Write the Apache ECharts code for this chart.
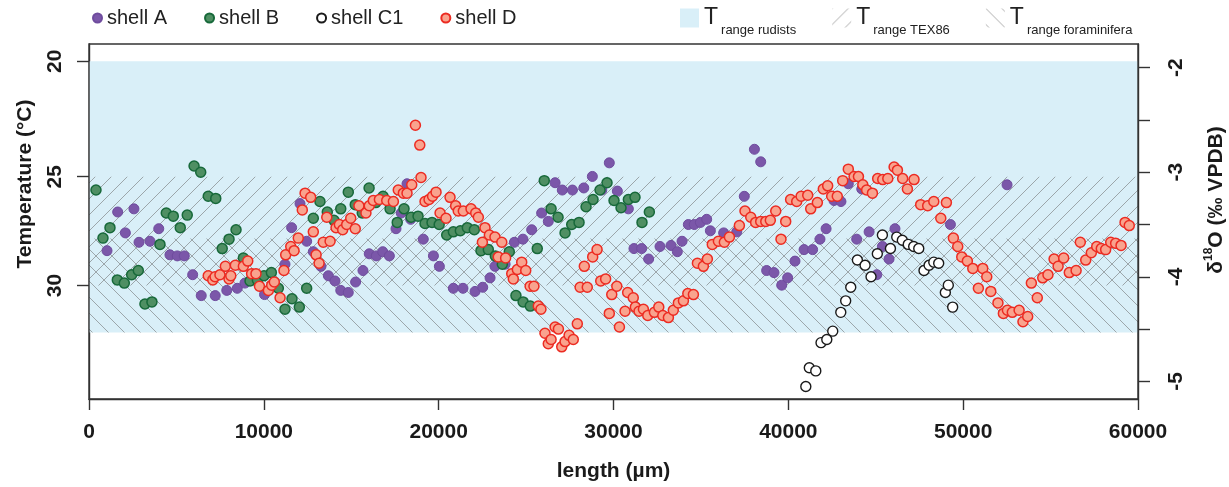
<!DOCTYPE html>
<html lang="en">
<head>
<meta charset="UTF-8">
<title>Shell temperatures</title>
<style>
  html, body { margin: 0; padding: 0; background: #fff; }
  #chart { width: 1229px; height: 487px; }
</style>
</head>
<body>
<div id="chart"></div>
<script src="https://cdn.jsdelivr.net/npm/echarts@6/dist/echarts.min.js"></script>
<script>
// length (µm) and d18O (permil VPDB)
const shellAx = [1030,1640,2080,2570,2860,3490,3990,4630,5050,5450,5930,6420,7220,7880,8480,8920,10040,11210,11590,12070,12450,12830,13270,13690,14070,14400,14830,15250,15670,16030,16430,16800,17180,17560,17860,18190,18400,19120,19700,20040,20840,21390,22080,22520,22940,23220,23800,24330,24820,25320,25890,26270,26660,27070,27650,28300,28790,29330,29760,30220,30850,31170,31610,32010,32660,33290,33650,33920,34280,34620,34970,35330,35540,36300,37050,37480,38060,38420,38760,39180,39620,39960,40380,40900,41390,41810,42160,42610,43010,43430,43910,44200,44620,45060,45380,45760,46100,49270,52510];
const shellAd = [-3.75,-3.38,-3.58,-3.35,-3.67,-3.66,-3.54,-3.79,-3.80,-3.80,-3.98,-4.18,-4.18,-4.13,-4.11,-4.06,-4.17,-3.88,-3.53,-3.30,-3.66,-3.76,-3.90,-3.99,-4.04,-4.13,-4.15,-4.05,-3.94,-3.78,-3.80,-3.76,-3.80,-3.54,-3.39,-3.11,-3.45,-3.64,-3.80,-3.90,-4.11,-4.11,-4.14,-4.10,-4.01,-3.90,-3.88,-3.67,-3.64,-3.55,-3.39,-3.47,-3.10,-3.17,-3.17,-3.15,-3.04,-3.17,-2.91,-3.18,-3.35,-3.73,-3.73,-3.83,-3.71,-3.70,-3.76,-3.66,-3.50,-3.50,-3.48,-3.45,-3.56,-3.58,-3.57,-3.23,-2.78,-2.90,-3.94,-3.96,-4.08,-4.01,-3.85,-3.74,-3.74,-3.64,-3.54,-3.27,-3.28,-3.11,-3.64,-3.16,-3.57,-3.98,-3.71,-3.83,-3.54,-3.50,-3.12];

const shellBx = [400,800,1200,1620,2020,2440,2820,3200,3600,4060,4420,4820,5220,5620,6010,6390,6820,7250,7620,8010,8410,8830,9210,9630,10010,10430,10830,11210,11610,12030,12450,12830,13210,13630,14010,14400,14830,15230,15630,16020,16400,16820,17220,17630,18020,18420,18820,19220,19620,20030,20460,20840,21240,21640,22040,22420,22840,23240,23640,24040,24420,24830,25240,25640,26040,26430,26830,27230,27610,28030,28430,28830,29230,29630,30030,30430,30850,31230,31630,32050];
const shellBd = [-3.17,-3.63,-3.53,-4.03,-4.06,-3.98,-3.94,-4.26,-4.24,-3.69,-3.39,-3.42,-3.53,-3.41,-2.94,-3.00,-3.23,-3.25,-3.73,-3.64,-3.55,-3.82,-4.04,-4.03,-3.99,-3.96,-4.11,-4.31,-4.21,-4.29,-4.11,-3.44,-3.28,-3.38,-3.46,-3.35,-3.19,-3.31,-3.39,-3.15,-3.29,-3.23,-3.35,-3.48,-3.35,-3.43,-3.42,-3.49,-3.48,-3.50,-3.60,-3.57,-3.56,-3.53,-3.55,-3.75,-3.74,-3.80,-3.88,-3.76,-4.18,-4.24,-4.28,-3.73,-3.08,-3.35,-3.43,-3.58,-3.50,-3.48,-3.33,-3.26,-3.17,-3.10,-3.27,-3.34,-3.26,-3.24,-3.48,-3.38];

const shellC1x = [41000,41200,41570,41870,42200,42540,43000,43280,43570,43950,44390,44730,45090,45380,45840,46200,46520,46860,47170,47460,47760,48050,48320,48600,48980,49150,49400];
const shellC1d = [-5.05,-4.87,-4.90,-4.63,-4.60,-4.52,-4.34,-4.23,-4.10,-3.84,-3.89,-4.00,-3.78,-3.60,-3.73,-3.62,-3.65,-3.69,-3.71,-3.73,-3.94,-3.89,-3.86,-3.87,-4.15,-4.08,-4.29];

const shellDx = [6820,7080,7210,7490,7800,8010,8110,8370,8830,9080,
  9300,9550,9750,10260,10450,10600,10930,11150,11250,11540,
  11730,11970,12200,12360,12680,12830,12990,13160,13400,13600,
  13790,14130,14320,14510,14740,14970,15230,15440,15840,16030,
  16260,16610,17030,17410,17690,17980,18190,18460,18670,18920,
  18990,19220,19450,19650,19850,20080,20420,20650,20970,21120,
  21410,21850,22120,22270,22500,22650,22900,23220,23410,23610,
  23830,24180,24270,24500,24750,24980,25230,25450,25700,25850,
  26080,26270,26430,26660,26850,27040,27230,27460,27700,27930,
  28090,28330,28500,28810,29060,29270,29550,29760,29900,30190,
  30340,30660,30810,31130,31250,31460,31710,31960,32340,32590,
  32820,33140,33420,33710,34000,34250,34570,34800,35140,35370,
  35650,36000,36340,36630,37200,37520,37850,38130,38420,38710,
  38970,39280,39580,39850,40130,40480,40730,41110,41280,41660,
  42000,42250,42480,42800,43110,43430,43760,44010,44260,44480,
  44810,45110,45400,45690,46050,46240,46540,46810,47190,47570,
  47970,48320,48720,49040,49440,49690,49920,50240,50550,50870,
  51120,51350,51580,51990,52300,52530,52810,53200,53420,53690,
  53900,54240,54550,54850,55200,55430,55750,56070,56460,56700,
  57010,57330,57640,57900,58150,58440,58720,59030,59260,59500];
const shellDd = [-3.99,-4.03,-4.00,-3.98,-3.90,-4.02,-3.99,-3.89,-3.90,-3.85,
  -3.97,-3.97,-4.09,-4.13,-4.08,-4.05,-4.20,-3.94,-3.79,-3.71,
  -3.75,-3.63,-3.36,-3.20,-3.24,-3.57,-3.79,-3.87,-3.67,-3.43,
  -3.66,-3.53,-3.50,-3.55,-3.50,-3.44,-3.54,-3.32,-3.39,-3.32,
  -3.27,-3.26,-3.27,-3.28,-3.17,-3.20,-3.20,-3.12,-2.55,-2.74,
  -3.05,-3.28,-3.26,-3.23,-3.19,-3.39,-3.44,-3.24,-3.32,-3.37,
  -3.37,-3.35,-3.39,-3.43,-3.67,-3.53,-3.60,-3.62,-3.81,-3.67,
  -3.82,-3.97,-4.02,-3.93,-3.86,-3.94,-4.09,-4.09,-4.28,-4.31,
  -4.54,-4.64,-4.60,-4.48,-4.50,-4.67,-4.62,-4.56,-4.60,-4.45,
  -4.10,-3.90,-4.10,-3.81,-3.74,-4.04,-4.02,-4.35,-4.17,-4.09,
  -4.48,-4.33,-4.15,-4.20,-4.29,-4.33,-4.31,-4.37,-4.34,-4.29,
  -4.37,-4.39,-4.32,-4.25,-4.23,-4.16,-4.17,-3.87,-3.90,-3.83,
  -3.69,-3.66,-3.67,-3.62,-3.51,-3.37,-3.43,-3.48,-3.47,-3.47,
  -3.46,-3.37,-3.64,-3.47,-3.26,-3.28,-3.23,-3.22,-3.35,-3.29,
  -3.16,-3.13,-3.23,-3.23,-3.08,-2.97,-3.04,-3.04,-3.12,-3.17,
  -3.20,-3.06,-3.07,-3.06,-2.95,-2.98,-3.06,-3.16,-3.07,-3.31,
  -3.32,-3.28,-3.44,-3.29,-3.63,-3.71,-3.81,-3.85,-3.92,-4.11,
  -3.92,-4.00,-4.14,-4.25,-4.35,-4.32,-4.34,-4.32,-4.43,-4.38,
  -4.06,-4.20,-4.01,-3.98,-3.83,-3.90,-3.82,-3.96,-3.94,-3.67,
  -3.84,-3.77,-3.71,-3.73,-3.74,-3.67,-3.68,-3.70,-3.48,-3.51];

// temperature ranges (°C)
const rangeRudists = [20, 32.25];
const rangeTEX86 = [25, 30];
const rangeForam = [27.8, 32.25];

const tempTicks = [20, 25, 30];
const d18OTicks = [-2, -2.5, -3, -3.5, -4, -4.5, -5];
const d18OLabels = [-2, -3, -4, -5];
const lengthMax = 60000;

// T = 16 - 4.14 (dc - dw) + 0.13 (dc - dw)^2 , dw = -1
function tempToD18O(t) {
  const disc = 4.14 * 4.14 - 4 * 0.13 * (16 - t);
  return (4.14 - Math.sqrt(disc)) / 0.26 - 1;
}
function d18OToTemp(d) {
  const x = d + 1;
  return 16 - 4.14 * x + 0.13 * x * x;
}

function hatch(dir) {
  const s = 16;
  const c = document.createElement('canvas');
  c.width = s; c.height = s;
  const g = c.getContext('2d');
  g.strokeStyle = 'rgba(105,105,105,0.55)';
  g.lineWidth = 1;
  g.beginPath();
  if (dir > 0) {
    g.moveTo(-s, s); g.lineTo(s, -s);
    g.moveTo(0, 2 * s); g.lineTo(2 * s, 0);
    g.moveTo(0, s); g.lineTo(s, 0);
  } else {
    g.moveTo(0, 0); g.lineTo(s, s);
    g.moveTo(-s, 0); g.lineTo(s, 2 * s);
    g.moveTo(0, -s); g.lineTo(2 * s, s);
  }
  g.stroke();
  return { image: c, repeat: 'repeat' };
}

const FONT = 'Liberation Sans, Arial, Helvetica, sans-serif';
const yMin = -5.169, yMax = -1.773;

function zip(xs, ys) { return xs.map((x, i) => [x, ys[i]]); }

function band(name, range, fill) {
  return {
    name: name,
    type: 'custom',
    silent: true,
    z: 1,
    itemStyle: { color: fill },
    encode: { x: [0, 1], y: [2, 3] },
    data: [[0, lengthMax, tempToD18O(range[0]), tempToD18O(range[1])]],
    renderItem: function (params, api) {
      const p1 = api.coord([api.value(0), api.value(2)]);
      const p2 = api.coord([api.value(1), api.value(3)]);
      return {
        type: 'rect',
        shape: { x: p1[0], y: Math.min(p1[1], p2[1]), width: p2[0] - p1[0], height: Math.abs(p2[1] - p1[1]) },
        style: { fill: fill }
      };
    }
  };
}

const axisLine = { show: true, onZero: false, lineStyle: { color: '#333', width: 1.4 } };
const tickLabel = { fontFamily: FONT, fontSize: 21, fontWeight: 'bold', color: '#1a1a1a' };

const chart = echarts.init(document.getElementById('chart'));

const option = {
  animation: false,
  grid: { left: 89, right: 91, top: 44, bottom: 88, show: true, borderColor: '#333', borderWidth: 1.4, z: 10 },
  legend: [
    {
      data: ['shell A', 'shell B', 'shell C1', 'shell D'],
      left: 87, top: 3, itemWidth: 9, itemHeight: 9, itemGap: 37,
      selectedMode: false,
      textStyle: { fontFamily: FONT, fontSize: 20, color: '#222' }
    },
    {
      data: ['rudists', 'TEX86', 'foraminifera'],
      left: 675, top: 1.5, icon: 'rect', itemWidth: 19, itemHeight: 19, itemGap: 36,
      selectedMode: false,
      formatter: name => '{t|T}{s|range ' + name + '}',
      textStyle: {
        fontFamily: FONT, color: '#222',
        rich: {
          t: { fontFamily: FONT, fontSize: 23, color: '#222', verticalAlign: 'middle', lineHeight: 37 },
          s: { fontFamily: FONT, fontSize: 13, color: '#222', verticalAlign: 'bottom', lineHeight: 37, padding: [0, 0, 0, 3] }
        }
      }
    }
  ],
  xAxis: {
    type: 'value', min: 0, max: lengthMax, interval: 10000,
    axisLine: axisLine,
    axisTick: { show: true, length: 11, lineStyle: { color: '#333', width: 1.4 } },
    axisLabel: Object.assign({ margin: 23, formatter: v => String(v) }, tickLabel),
    splitLine: { show: false },
    name: 'length (µm)', nameLocation: 'middle', nameGap: 62,
    nameTextStyle: { fontFamily: FONT, fontSize: 21, fontWeight: 'bold', color: '#1a1a1a' }
  },
  yAxis: [
    {
      type: 'value', position: 'right', min: yMin, max: yMax,
      axisLine: axisLine,
      axisTick: { show: true, length: 12, customValues: d18OTicks, lineStyle: { color: '#333', width: 1.4 } },
      axisLabel: Object.assign({ customValues: d18OLabels, rotate: 90, margin: 28 }, tickLabel),
      splitLine: { show: false }
    },
    {
      type: 'value', position: 'left', min: yMin, max: yMax,
      axisLine: axisLine,
      axisTick: { show: true, length: 12, customValues: tempTicks.map(tempToD18O), lineStyle: { color: '#333', width: 1.4 } },
      axisLabel: Object.assign({
        customValues: tempTicks.map(tempToD18O), rotate: 90, margin: 23,
        formatter: v => String(Math.round(d18OToTemp(v)))
      }, tickLabel),
      splitLine: { show: false }
    }
  ],
  graphic: [
    {
      type: 'text', x: 25, y: 184, rotation: Math.PI / 2, silent: true,
      style: { text: 'Temperature (°C)', fontFamily: FONT, fontSize: 21, fontWeight: 'bold', fill: '#1a1a1a', align: 'center', verticalAlign: 'middle' }
    },
    {
      type: 'text', x: 1215, y: 200, rotation: Math.PI / 2, silent: true,
      style: {
        text: '{m|δ}{u|18}{m|O (‰ VPDB)}', align: 'center', verticalAlign: 'middle',
        rich: {
          m: { fontFamily: FONT, fontSize: 21, fontWeight: 'bold', fill: '#1a1a1a', lineHeight: 24, verticalAlign: 'bottom' },
          u: { fontFamily: FONT, fontSize: 12, fontWeight: 'bold', fill: '#1a1a1a', lineHeight: 24, verticalAlign: 'top' }
        }
      }
    }
  ],
  series: [
    band('rudists', rangeRudists, '#d9eff8'),
    band('TEX86', rangeTEX86, hatch(1)),
    band('foraminifera', rangeForam, hatch(-1)),
    {
      name: 'shell A', type: 'scatter', z: 3, symbolSize: 10,
      itemStyle: { color: '#7b57a9', borderColor: '#6f4c9e', borderWidth: 1, opacity: 1 },
      data: zip(shellAx, shellAd)
    },
    {
      name: 'shell B', type: 'scatter', z: 3, symbolSize: 10,
      itemStyle: { color: '#4f8f63', borderColor: '#17693a', borderWidth: 1.5, opacity: 1 },
      data: zip(shellBx, shellBd)
    },
    {
      name: 'shell C1', type: 'scatter', z: 3, symbolSize: 10,
      itemStyle: { color: '#ffffff', borderColor: '#1a1a1a', borderWidth: 1.4, opacity: 1 },
      data: zip(shellC1x, shellC1d)
    },
    {
      name: 'shell D', type: 'scatter', z: 3, symbolSize: 10,
      itemStyle: { color: '#f9a38e', borderColor: '#ec2b22', borderWidth: 1.5, opacity: 1 },
      data: zip(shellDx, shellDd)
    }
  ]
};

chart.setOption(option);
</script>
</body>
</html>
